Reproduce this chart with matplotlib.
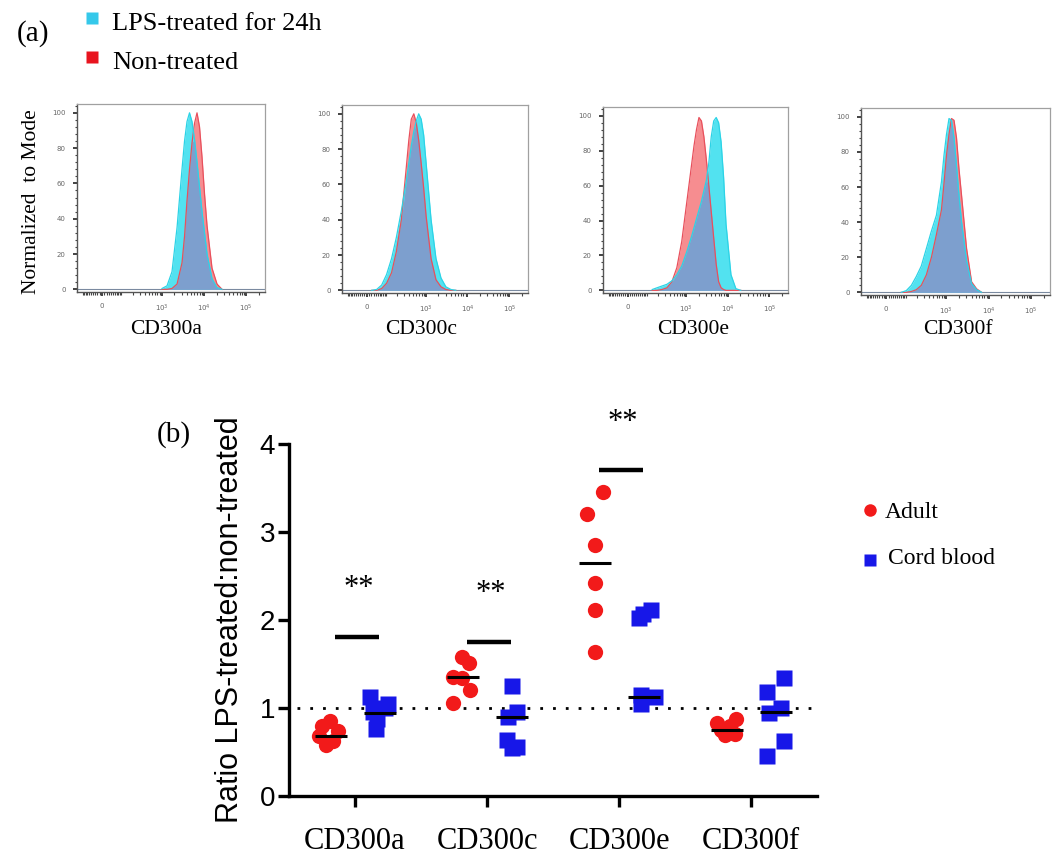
import numpy as np
import matplotlib
matplotlib.use('Agg')
import matplotlib.pyplot as plt
from matplotlib.lines import Line2D
from matplotlib.ticker import FixedLocator, MultipleLocator

# ---------------- data: panel (a) flow histograms (normalized to mode) ----------------
markers = ['CD300a', 'CD300c', 'CD300e', 'CD300f']

cd300a_x = [1030, 1350, 1770, 2330, 3050, 3500, 4000, 4590, 5260, 6020, 6900, 7910, 9050, 10380, 11900, 15600, 20500, 26900]
cd300a_lps = [0.5, 2, 10, 35, 68, 84, 95, 100, 95, 85, 72, 58, 44, 32, 20, 6, 1, 0]
cd300a_non = [0, 0, 0.5, 3, 15, 30, 50, 68, 83, 94, 100, 92, 75, 54, 36, 12, 3, 0]

cd300c_x = [22, 45, 72, 104, 144, 193, 258, 343, 394, 453, 520, 596, 683, 783, 898, 1029, 1351, 1770, 2330, 3050, 4005, 5260]
cd300c_lps = [0, 0.5, 3, 9, 18, 30, 45, 62, 72, 82, 90, 96, 100, 97, 88, 72, 40, 18, 7, 2, 0.5, 0]
cd300c_non = [0, 0, 1, 4, 10, 22, 40, 70, 85, 97, 100, 95, 85, 72, 58, 42, 18, 6, 2, 0.5, 0, 0]

cd300e_x = [144, 193, 258, 343, 453, 596, 783, 1029, 1351, 1548, 1770, 2030, 2330, 2665, 3050, 3500, 4005, 4590, 5260, 6020, 6900, 7910, 9050, 11900, 15600, 20500]
cd300e_lps = [0.5, 1.5, 2.5, 3.5, 5.5, 9, 14, 22, 31, 36, 41, 46, 51, 57, 63, 73, 88, 97, 99, 96, 85, 65, 38, 9, 1, 0]
cd300e_non = [0, 0, 0.5, 1.5, 5, 13, 28, 50, 72, 83, 92, 99, 97, 88, 75, 60, 45, 30, 15, 5, 1.5, 0.5, 0, 0, 0, 0]

cd300f_x = [72, 104, 144, 193, 258, 343, 453, 596, 783, 898, 1029, 1179, 1351, 1548, 1770, 2030, 2330, 3050, 4005, 5260, 6900]
cd300f_lps = [0, 1, 4, 9, 15, 25, 35, 44, 63, 78, 90, 99, 98, 88, 72, 55, 40, 18, 5, 1.5, 0]
cd300f_non = [0, 0, 0.5, 1.5, 4, 10, 20, 33, 47, 62, 78, 90, 99, 98, 88, 70, 55, 25, 6, 2, 0]

hist_xticks = [0, 1e3, 1e4, 1e5]
hist_xticklabels = ['0', r'$10^3$', r'$10^4$', r'$10^5$']
hist_yticks = [0, 20, 40, 60, 80, 100]

# ---------------- data: panel (b) ratio LPS-treated : non-treated ----------------
groups = ['CD300a', 'CD300c', 'CD300e', 'CD300f']
adult_vals = [
    [0.85, 0.80, 0.74, 0.68, 0.62, 0.58],
    [1.58, 1.51, 1.35, 1.34, 1.20, 1.06],
    [3.45, 3.21, 2.85, 2.42, 2.11, 1.64],
    [0.88, 0.83, 0.79, 0.75, 0.71, 0.69],
]
cord_vals = [
    [1.13, 1.05, 1.00, 0.95, 0.87, 0.76],
    [1.25, 0.96, 0.90, 0.64, 0.56, 0.55],
    [2.11, 2.07, 2.02, 1.15, 1.12, 1.05],
    [1.34, 1.18, 1.00, 0.94, 0.62, 0.45],
]
adult_center = [0.68, 1.35, 2.65, 0.75]
cord_center = [0.94, 0.90, 1.13, 0.95]
sig_groups = [0, 1, 2]
sig_bar_y = [1.81, 1.75, 3.70]
sig_star_y = [2.36, 2.30, 4.25]
sig_label = '**'
y_ticks_b = [0, 1, 2, 3, 4]

# horizontal jitter (layout only)
adult_jitter = [
    [-0.19, -0.25, -0.13, -0.27, -0.17, -0.22],
    [-0.19, -0.14, -0.26, -0.19, -0.13, -0.26],
    [-0.12, -0.24, -0.18, -0.18, -0.18, -0.18],
    [-0.11, -0.26, -0.16, -0.23, -0.12, -0.20],
]
cord_jitter = [
    [0.11, 0.25, 0.23, 0.14, 0.17, 0.16],
    [0.19, 0.23, 0.16, 0.15, 0.23, 0.19],
    [0.24, 0.18, 0.15, 0.17, 0.27, 0.17],
    [0.25, 0.12, 0.23, 0.14, 0.25, 0.12],
]

SERIF = ['Liberation Serif', 'DejaVu Serif']
SANS = ['Liberation Sans', 'DejaVu Sans']

W, H = 1054, 856
fig = plt.figure(figsize=(W / 100, H / 100), dpi=100)


def fx(px):
    return px / W


def fy(py):
    return 1 - py / H


def axes_px(x0, y0, x1, y1):
    return fig.add_axes([fx(x0), fy(y1), (x1 - x0) / W, (y1 - y0) / H])


# ---------------- panel (a) ----------------
hist_boxes = [(77, 104, 265, 292), (342, 105, 528, 293), (603, 107, 788, 293), (861, 108, 1050, 295)]
hist_data = [(cd300a_x, cd300a_lps, cd300a_non), (cd300c_x, cd300c_lps, cd300c_non),
             (cd300e_x, cd300e_lps, cd300e_non), (cd300f_x, cd300f_lps, cd300f_non)]
title_cx = [166, 421, 693, 958]

minor_x = []
for dec in [10, 100, 1000, 10000]:
    for m in range(1, 10):
        minor_x.append(m * dec)
minor_x += [2e5]
minor_x = [-v for v in [10, 20, 30, 40, 50, 60, 70, 80, 90, 100]] + minor_x

for box, (xs, lps, non), name, cx in zip(hist_boxes, hist_data, markers, title_cx):
    ax = axes_px(*box)
    ax.set_xscale('asinh', linear_width=79)
    xs = np.array(xs, float)
    lps = np.array(lps, float)
    non = np.array(non, float)
    ax.fill_between(xs, non, 0, color='#f68d90', lw=0, zorder=2)
    ax.fill_between(xs, lps, 0, color='#52e2f0', lw=0, zorder=2)
    ax.fill_between(xs, np.minimum(lps, non), 0, color='#7d9fce', lw=0, zorder=3)
    ax.plot(xs, non, color='#e8505c', lw=0.9, zorder=4)
    ax.plot(xs, lps, color='#2cd3e6', lw=0.9, zorder=4)
    ax.axhline(0, color='#7a8aa0', lw=0.8, zorder=1)
    ax.set_xlim(-144, 2.78e5)
    ax.set_ylim(-1.5, 105)
    ax.set_xticks(hist_xticks)
    ax.set_xticklabels(hist_xticklabels)
    ax.xaxis.set_minor_locator(FixedLocator(minor_x))
    ax.set_yticks(hist_yticks)
    ax.yaxis.set_minor_locator(MultipleLocator(4))
    ax.tick_params(axis='both', which='major', length=3, width=1.2, color='#222222',
                   labelsize=5, labelcolor='#666666', pad=5)
    ax.tick_params(axis='both', which='minor', length=1.8, width=0.8, color='#444444')
    for s in ['top', 'right']:
        ax.spines[s].set_color('#a0a0a0')
        ax.spines[s].set_linewidth(0.9)
    for s in ['left', 'bottom']:
        ax.spines[s].set_color('#555555')
        ax.spines[s].set_linewidth(1.0)
    fig.text(fx(cx), fy(329), name, ha='center', va='center', fontsize=15.5, family=SERIF)

fig.text(fx(32), fy(202), 'Normalized  to Mode', rotation=90, ha='center', va='center',
         fontsize=15.5, family=SERIF)
fig.text(fx(33), fy(34), '(a)', ha='center', va='center', fontsize=21, family=SERIF)

fig.add_artist(Line2D([fx(92)], [fy(18)], marker='s', ms=8, color='#35c8ea', mec='none',
                      transform=fig.transFigure))
fig.add_artist(Line2D([fx(92)], [fy(57)], marker='s', ms=8, color='#e8141e', mec='none',
                      transform=fig.transFigure))
fig.text(fx(112), fy(24), 'LPS-treated for 24h', ha='left', va='center', fontsize=19, family=SERIF)
fig.text(fx(112), fy(63), 'Non-treated', ha='left', va='center', fontsize=19, family=SERIF)

# ---------------- panel (b) ----------------
axb = axes_px(289, 444, 817, 796)
red = '#f21a1a'
blue = '#1717e8'
for i in range(len(groups)):
    xa = [i + j for j in adult_jitter[i]]
    xc = [i + j for j in cord_jitter[i]]
    axb.plot(xa, adult_vals[i], 'o', ms=11, color=red, mec='none', zorder=3, clip_on=False)
    axb.plot(xc, cord_vals[i], 's', ms=11, color=blue, mec='none', zorder=3, clip_on=False)
    axb.plot([i - 0.18 - 0.12, i - 0.18 + 0.12], [adult_center[i]] * 2, color='black', lw=2.2, zorder=4,
             solid_capstyle='butt')
    axb.plot([i + 0.19 - 0.12, i + 0.19 + 0.12], [cord_center[i]] * 2, color='black', lw=2.2, zorder=4,
             solid_capstyle='butt')

for g, by, sy in zip(sig_groups, sig_bar_y, sig_star_y):
    axb.plot([g - 0.15, g + 0.18], [by, by], color='black', lw=3.2, solid_capstyle='butt', clip_on=False)
    axb.text(g + 0.03, sy, sig_label, ha='center', va='center', fontsize=22, family=SERIF, clip_on=False)

axb.axhline(1, xmin=0.015, xmax=1, color='black', lw=2.0, ls=(0, (1, 3.6)), zorder=2)
axb.set_xlim(-0.5, 3.5)
axb.set_ylim(0, 4)
axb.set_xticks(range(len(groups)))
axb.set_xticklabels(groups, fontsize=22, family=SERIF)
axb.set_yticks(y_ticks_b)
axb.set_yticklabels([str(v) for v in y_ticks_b], fontsize=20, family=SANS)
for s in ['top', 'right']:
    axb.spines[s].set_visible(False)
for s in ['left', 'bottom']:
    axb.spines[s].set_linewidth(2.4)
axb.tick_params(axis='y', length=8, width=2.4, pad=2)
axb.tick_params(axis='x', length=8, width=2.4, pad=14)
axb.set_ylabel('Ratio LPS-treated:non-treated', fontsize=22, family=SANS)
axb.yaxis.set_label_coords(-0.083, 0.5)

fig.text(fx(174), fy(435), '(b)', ha='center', va='center', fontsize=21, family=SERIF)

fig.add_artist(Line2D([fx(870)], [fy(510)], marker='o', ms=9, color=red, mec='none',
                      transform=fig.transFigure))
fig.add_artist(Line2D([fx(870)], [fy(560)], marker='s', ms=9, color=blue, mec='none',
                      transform=fig.transFigure))
fig.text(fx(885), fy(513), 'Adult', ha='left', va='center', fontsize=17, family=SERIF)
fig.text(fx(888), fy(559), 'Cord blood', ha='left', va='center', fontsize=17, family=SERIF)

fig.savefig('out.png', dpi=100)
